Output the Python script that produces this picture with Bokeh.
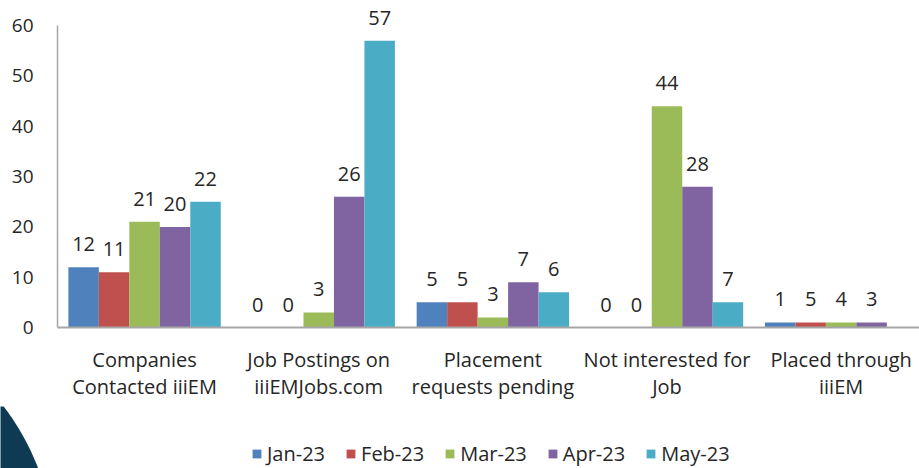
from bokeh.plotting import figure
from bokeh.layouts import column
from bokeh.models import (ColumnDataSource, Range1d, FixedTicker, Legend, LegendItem,
                          LabelSet)
from bokeh.core.properties import value
from bokeh.embed import file_html
from bokeh.resources import INLINE

categories = ["Companies\nContacted iiiEM", "Job Postings on\niiiEMJobs.com",
              "Placement\nrequests pending", "Not interested for\nJob",
              "Placed through\niiiEM"]
months = ["Jan-23", "Feb-23", "Mar-23", "Apr-23", "May-23"]

jan = [12, 0, 5, 0, 1]
feb = [11, 0, 5, 0, 1]
mar = [21, 3, 2, 44, 1]
apr = [20, 26, 9, 28, 1]
may = [25, 57, 7, 5, 0]

jan_lbl = ["12", "0", "5", "0", "1"]
feb_lbl = ["11", "0", "5", "0", "5"]
mar_lbl = ["21", "3", "3", "44", "4"]
apr_lbl = ["20", "26", "7", "28", "3"]
may_lbl = ["22", "57", "6", "7", ""]

y_ticks = [0, 10, 20, 30, 40, 50, 60]

series = [jan, feb, mar, apr, may]
labels = [jan_lbl, feb_lbl, mar_lbl, apr_lbl, may_lbl]
colors = ["#4f81bd", "#c0504d", "#9bbb59", "#8064a2", "#4bacc6"]

FONT = "Open Sans"
TXT = "#262626"
W = 919
H_MAIN = 406
H_LEG = 62

# ---------------- main chart ----------------
p = figure(width=W, height=H_MAIN, output_backend="svg", toolbar_location=None,
           x_range=Range1d(0, 4.95), y_range=Range1d(0, 65),
           min_border_left=57, min_border_top=0, min_border_right=0,
           min_border_bottom=79)
p.frame_align = False
p.outline_line_color = None
p.xgrid.visible = False
p.ygrid.visible = False

bar_w = 0.175
offsets = [-2 * bar_w, -bar_w, 0, bar_w, 2 * bar_w]
centers = [i + 0.5 for i in range(len(categories))]

for vals, lbls, col, off in zip(series, labels, colors, offsets):
    src = ColumnDataSource(dict(x=[c + off for c in centers], top=vals, lbl=lbls))
    p.vbar(x="x", top="top", width=bar_w, bottom=0, source=src,
           fill_color=col, line_color=None)
    p.add_layout(LabelSet(x="x", y="top", text="lbl", source=src,
                          text_align="center", text_baseline="middle",
                          y_offset=23, text_font=value(FONT),
                          text_font_size="20px", text_color=TXT))

p.yaxis.ticker = FixedTicker(ticks=y_ticks)
p.yaxis.bounds = (0, 60)
p.yaxis.major_tick_line_color = None
p.yaxis.minor_tick_line_color = None
p.yaxis.major_label_standoff = 18
p.yaxis.major_label_text_font = FONT
p.yaxis.major_label_text_font_size = "19px"
p.yaxis.major_label_text_color = TXT
p.yaxis.axis_line_color = "#a6a6a6"
p.yaxis.axis_line_width = 1.5

p.xaxis.ticker = FixedTicker(ticks=centers)
p.xaxis.major_label_overrides = {c: cat for c, cat in zip(centers, categories)}
p.xaxis.major_tick_line_color = None
p.xaxis.minor_tick_line_color = None
p.xaxis.major_label_standoff = 12
p.xaxis.major_label_text_font = FONT
p.xaxis.major_label_text_font_size = "20px"
p.xaxis.major_label_text_line_height = 1.03
p.xaxis.major_label_text_color = TXT
p.xaxis.axis_line_color = "#a6a6a6"
p.xaxis.axis_line_width = 2

# ---------------- legend strip ----------------
q = figure(width=W, height=H_LEG, output_backend="svg", toolbar_location=None,
           x_range=Range1d(0, W), y_range=Range1d(H_LEG, 0),
           x_axis_type=None, y_axis_type=None,
           min_border=0, min_border_left=0, min_border_right=0,
           min_border_top=0, min_border_bottom=0)
q.frame_align = False
q.outline_line_color = None
q.xgrid.visible = False
q.ygrid.visible = False

# decorative dark disc of the slide background (bottom-left corner)
q.circle(x=[-200], y=[154], radius=255, fill_color="#0e3b53", line_color=None)

items = []
for m, col in zip(months, colors):
    r = q.vbar(x=[-1000], top=[0], bottom=[0], width=1, fill_color=col,
               line_color=None)
    items.append(LegendItem(label=m, renderers=[r]))

legend = Legend(items=items, orientation="horizontal", location=(251, 1),
                label_text_font=FONT, label_text_font_size="20px",
                label_text_color=TXT, glyph_width=11, glyph_height=11,
                label_standoff=5, spacing=20, border_line_color=None,
                background_fill_alpha=0, margin=0, padding=0)
q.add_layout(legend, "center")

open("out.html", "w").write(file_html(column(p, q, spacing=0), INLINE))
